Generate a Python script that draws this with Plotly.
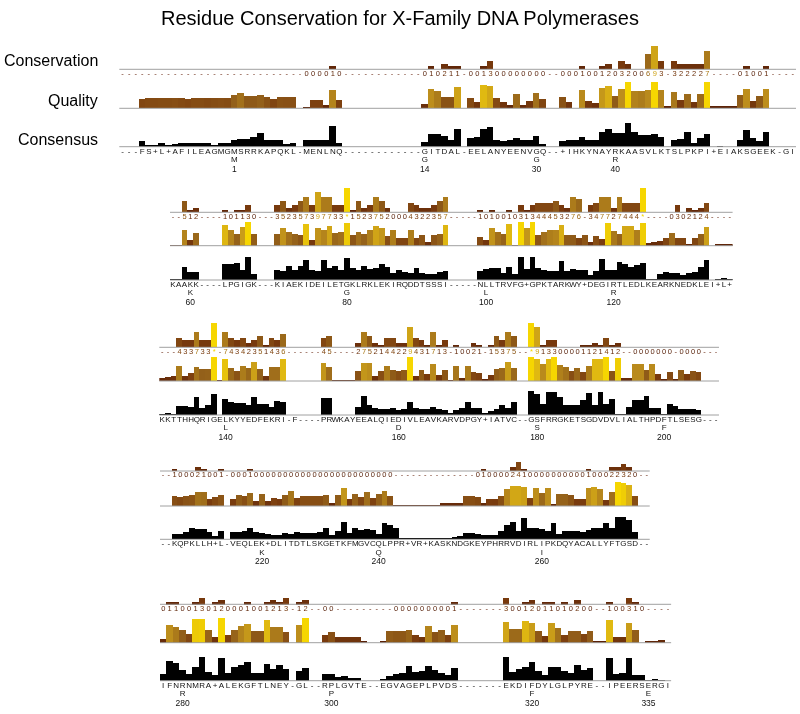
import plotly.graph_objects as go
from plotly.colors import sample_colorscale

TITLE = "Residue Conservation for X-Family DNA Polymerases"
ROW_LABELS = ["Conservation", "Quality", "Consensus"]

# ---------------- Block 1 ----------------
B1_SEQ = ("---" "FS+L+AFILEAGMGMSRRKAPQKL" "-" "MENLNQ" "------------" "GITDAL" "-"
          "EELANYEENVGQ" "--" "+" "IHKYNAYRKAASVLKTSLPKPI" "+EI" "AKSGEEK" "-" "GI")
B1_CONS = ("----------" "----------" "--------" "000010" "----------" "--" "010211" "-"
           "001300000000" "--" "0001001203200693" "-" "322227" "----" "01001" "----")
B1_QUAL = [0, 0, 0,
           3.6, 3.8, 3.8, 3.9, 3.9, 4.0, 3.8, 3.6, 3.9, 3.9, 3.7, 3.9, 4.0, 3.9,
           5.0, 5.8, 4.6, 4.6, 5.0, 4.2, 3.5, 4.2, 4.1, 4.1,
           0,
           0.3, 3.2, 3.2, 1.0, 6.8, 3.2,
           0, 0, 0, 0, 0, 0, 0, 0, 0, 0, 0, 0,
           1.7, 7.3, 6.4, 4.2, 4.2, 8.1,
           0,
           3.8, 2.4, 9.0, 8.3, 3.8, 2.2, 1.0, 5.5, 1.3, 2.6, 5.8, 3.5,
           0, 0,
           4.2, 2.3, 0, 7.1, 2.6, 1.9, 7.7, 8.6, 4.7, 7.3, 10, 6.7, 6.4, 7.1, 10, 6.8, 0.4,
           6.2, 2.9, 5.5, 2.2, 5.5, 10,
           0.5, 0.5, 0.5, 0.5,
           4.9, 7.3, 2.6, 4.7, 7.3,
           0, 0, 0, 0]
B1_CONSENSUS = [0, 0, 0,
                2.6, 0.7, 0.7, 1.7, 0.7, 1.3, 1.7, 1.7, 1.7, 1.7, 1.7, 0.9, 1.7, 1.7, 2.9, 3.3,
                3.3, 4.0, 5.7, 2.9, 2.7, 2.7, 1.2, 1.6,
                0,
                2.9, 3.0, 3.0, 2.7, 8.4, 1.6,
                0, 0, 0, 0, 0, 0, 0, 0, 0, 0, 0, 0,
                1.9, 5.4, 5.4, 4.5, 2.8, 7.4,
                0,
                3.6, 4.2, 7.1, 8.1, 2.8, 2.6, 2.9, 3.5, 2.8, 2.8, 4.5, 1.3,
                0, 0,
                2.6, 2.8, 2.9, 4.2, 2.9, 2.9, 6.0, 7.4, 5.8, 5.8, 9.6, 6.2, 4.9, 4.9, 5.1, 4.2, 0,
                2.9, 3.2, 6.2, 1.7, 3.5, 5.1,
                0, 0.4, 0, 0,
                2.8, 6.9, 3.8, 2.4, 6.2,
                0, 0, 0, 0]
B1_REF_POS = [17, 46, 63, 75]
B1_REF_RES = ["M", "G", "G", "R"]
B1_REF_NUM = ["1", "14", "30", "40"]

# ---------------- Block 2 ----------------
B2_SEQ = ("KAAKK" "----" "LPGIGK" "---" "KIAEKIDEILETGKLRKLEKIRQDDTSSSI" "-----" "NLLTRVFG" "+"
          "GPKTARKWY" "+" "DEGIRTLEDLKEARKNEDKLEI" "+L+")
B2_CONS = ("--512" "----" "101130" "---" "352357397733" "*" "15237520004322357" "-----"
           "101001031344453276" "-" "347727444*" "----" "0302124" "----")
B2_QUAL = [0.3, 0.3, 6.8, 2.6, 5.4,
           0, 0, 0, 0,
           8.9, 6.8, 5.1, 7.9, 10, 4.9,
           0, 0, 0,
           4.9, 7.5, 5.8, 5.1, 4.4, 9.3, 2.6, 7.5, 6.8, 8.2, 5.4, 5.8, 9.6, 4.4, 5.8, 5.1,
           6.5, 8.2, 7.6, 4.0, 6.5, 3.5, 3.5, 6.5, 3.5, 4.4, 1.7, 4.4, 5.1, 8.9,
           0, 0, 0, 0, 0,
           3.8, 2.4, 7.5, 5.8, 5.1, 9.0, 0.2, 10, 7.6, 10, 4.4, 5.8, 6.5, 6.8, 8.6, 4.7,
           4.7, 3.5, 4.4, 1.7, 4.0, 3.0, 9.7, 6.2, 5.1, 8.3, 8.3, 6.5, 9.7, 1.2, 1.5, 1.9,
           3.5, 5.6, 3.5, 3.5, 1.0, 3.5, 5.0, 8.0,
           0, 0.8, 0.8, 0.8]
B2_CONSENSUS = [0.2, 0.3, 5.6, 3.5, 3.5,
                0, 0, 0, 0,
                6.5, 6.5, 6.9, 4.2, 9.7, 2.4,
                0, 0, 0,
                4.2, 3.9, 5.8, 4.2, 5.8, 8.3, 4.2, 3.9, 8.3, 4.9, 5.8, 4.2, 9.0, 4.9, 4.2, 5.8,
                4.4, 4.9, 6.7, 5.3, 2.8, 4.2, 3.2, 2.8, 4.9, 3.1, 2.4, 2.4, 3.2, 3.9,
                0, 0, 0, 0, 0,
                3.9, 4.4, 4.9, 5.1, 2.8, 5.3, 2.4, 9.4, 4.4, 9.7, 4.9, 4.2, 3.9, 3.9, 7.9, 3.9,
                4.4, 4.2, 4.2, 2.1, 3.9, 8.8, 4.2, 4.2, 7.6, 6.5, 5.3, 6.3, 6.9, 0.4, 0.4, 2.4,
                3.5, 2.8, 2.8, 2.1, 2.8, 3.5, 5.5, 8.5,
                0, 0.3, 1.0, 0.3]
B2_REF_POS = [3, 30, 54, 76]
B2_REF_RES = ["K", "G", "L", "R"]
B2_REF_NUM = ["60", "80", "100", "120"]

# ---------------- Block 3 ----------------
B3_SEQ = ("KKTTHHQRIGELKYYEDFEKRI" "-F----" "PRWKAY" "EEALQIEDIVLEAVKARVDPGY" "+" "IATVC" "--"
          "GSFRRGKETSGDVDVLIALTHPDFTLSESG" "---")
B3_CONS = ("---" "433733" "*-" "74342351436" "------" "45" "----" "2752144229431713" "-" "10021"
           "-" "15375" "--" "*913300001121412" "--" "0000000" "-" "0000" "---")
B3_QUAL = [1.4, 1.6, 1.9, 6.4, 2.1, 3.3, 5.9, 5.0, 5.1, 10, 0.1, 9.3, 5.4, 4.3, 6.4, 5.4,
           8.0, 5.0, 2.1, 5.7, 5.7, 9.0,
           0, 0, 0, 0, 0, 0,
           7.6, 5.7,
           0.3, 0.3, 0.3, 0.3,
           4.3, 7.6, 7.3, 1.9, 4.0, 6.4, 4.7, 4.0, 4.7, 10, 2.1, 4.7, 2.9, 7.1, 2.3, 4.4,
           0.4, 6.1, 1.1, 6.4, 3.6, 3.3, 0.7, 2.6, 5.0, 5.4, 7.9, 5.4,
           0, 0,
           10, 9.0, 7.1, 9.0, 10, 6.6, 5.9, 4.0, 5.4, 3.6, 6.4, 9.0, 9.0, 10, 4.3, 9.7,
           1.4, 1.4, 7.1, 7.1, 4.7, 7.1, 2.9, 0.7, 3.7, 0.9, 4.7, 2.9, 4.3, 3.7,
           0, 0, 0]
B3_CONSENSUS = [0.3, 1.0, 0.4, 3.9, 3.8, 3.5, 7.6, 2.8, 4.2, 8.8, 0, 6.5, 5.3, 5.1, 4.9,
                4.2, 7.6, 4.4, 4.4, 3.5, 5.8, 5.3,
                0, 0, 0, 0, 0, 0,
                6.9, 6.9,
                0, 0, 0, 0,
                3.5, 8.1, 4.2, 3.1, 2.4, 2.5, 2.8, 2.1, 2.4, 5.6, 3.1, 2.4, 2.4, 3.5, 2.4,
                2.1, 0.5, 2.1, 2.8, 5.3, 2.8, 2.8, 0.5, 1.5, 2.4, 4.2, 2.8, 5.6,
                0, 0,
                10, 8.8, 4.4, 9.4, 9.7, 7.6, 4.2, 4.2, 4.2, 6.3, 9.3, 4.2, 9.4, 4.4, 6.5,
                0.4, 0.3, 3.5, 6.3, 6.3, 7.9, 2.8, 2.8, 0.3, 4.4, 3.9, 2.4, 2.4, 2.4, 2.0,
                0, 0, 0]
B3_REF_POS = [11, 41, 65, 87]
B3_REF_RES = ["L", "D", "S", "F"]
B3_REF_NUM = ["140", "160", "180", "200"]

# ---------------- Block 4 ----------------
B4_SEQ = ("--" "KQPKLLH+L" "-" "VEQLEK+DLITDTLSKGETKFMGVCQLPPR" "+" "VR" "+"
          "KASKNDGKEYPHRRVDIRLIPKDQYACALLYFTGSD" "--")
B4_CONS = ("--" "100021001" "-" "0001" "000000000000" "000000000000" "----------" "----"
           "01" "0000" "241" "0000000000" "1" "000" "22320" "--")
B4_QUAL = [0, 0,
           4.0, 3.7, 4.3, 4.4, 5.9, 5.7, 3.0, 3.7, 4.4,
           0,
           2.9, 4.7, 4.0, 5.4, 2.1, 5.1, 2.1, 3.3, 2.9, 4.7, 6.1, 3.3, 4.0, 4.0, 4.0, 4.0,
           4.7, 1.1, 4.7, 7.6, 2.9, 5.1, 3.6, 5.7, 3.3, 5.0, 6.4, 4.3,
           0.3, 0.3, 0.3, 0.3, 0.3, 0.3, 0.3, 0.3,
           1.4, 1.4, 1.4, 1.4,
           4.0, 4.0, 3.7, 1.1, 3.0, 2.9, 4.0, 6.9, 8.3, 8.3, 8.0, 3.3, 7.3, 5.4, 7.3, 0.9,
           5.1, 5.1, 4.4, 2.9, 2.9, 7.3, 8.0, 6.9, 2.6, 5.7, 10, 9.7, 8.7, 4.0,
           0, 0]
B4_CONSENSUS = [0, 0,
                2.3, 2.1, 3.0, 4.7, 4.4, 4.4, 2.9, 1.1, 3.3,
                0,
                3.0, 3.0, 3.6, 5.0, 3.0, 2.6, 2.1, 1.6, 1.6, 2.6, 2.3, 2.9, 2.6, 2.6, 2.6, 3.0,
                5.0, 1.9, 3.6, 7.6, 2.6, 5.0, 4.0, 4.4, 4.0, 2.3, 6.9, 6.1,
                5.0, 0.4, 0.1, 0.4, 0.2, 0.2, 0.2, 0.2, 0.4, 0.4, 0.7, 1.1,
                2.6, 2.6, 2.1, 1.9, 1.9, 1.9, 3.6, 5.9, 7.6, 3.6, 9.3, 4.7, 4.7, 4.4, 3.3, 7.1,
                2.3, 3.3, 3.6, 3.6, 3.0, 4.0, 4.7, 5.0, 7.1, 5.0, 9.4, 9.4, 8.3, 3.0,
                0, 0]
B4_REF_POS = [17, 37, 65]
B4_REF_RES = ["K", "Q", "I"]
B4_REF_NUM = ["220", "240", "260"]

# ---------------- Block 5 ----------------
B5_SEQ = ("IFNRNMRA+ALEKGFTLNEY" "-" "GL" "--" "RPLGVTE" "--" "EGVAGEPLPVDS" "-------"
          "EKDIFDYLGLPYRE" "--" "IPEERSERGI")
B5_CONS = ("01100130120001001213" "-" "12" "--" "00" "---------" "000000000" "1" "-------"
           "30012011010200" "--" "100310" "----")
B5_QUAL = [1.4, 7.3, 6.3, 4.9, 3.6, 9.6, 9.7, 5.2, 2.1, 10, 3.2, 5.2, 6.8, 7.7, 4.5, 4.5,
           9.0, 6.3, 6.3, 4.1,
           0,
           7.3, 10,
           0, 0,
           2.9, 4.1, 2.2, 2.2, 2.2, 2.2, 0.3,
           0, 0,
           0.4, 4.8, 4.5, 4.5, 5.2, 2.9, 2.2, 6.8, 4.2, 4.9, 3.2, 7.3,
           0, 0, 0, 0, 0, 0, 0,
           8.2, 5.5, 5.5, 8.9, 7.9, 4.5, 2.5, 7.9, 5.9, 3.2, 4.8, 4.8, 3.4, 4.8,
           0.3, 0.3,
           9.0, 2.3, 2.1, 7.9, 4.9, 0, 0.8, 0.8, 1.1, 0]
B5_CONSENSUS = [2.7, 8.1, 7.4, 4.3, 3.0, 5.7, 9.7, 3.6, 2.3, 9.3, 3.2, 5.7, 6.4, 7.7, 3.2,
                3.2, 6.8, 5.0, 6.4, 5.0,
                0,
                4.1, 5.4,
                0, 0,
                3.0, 2.7, 1.6, 1.9, 1.4, 1.4, 0,
                0, 0,
                0.5, 1.9, 3.0, 3.2, 5.9, 3.6, 4.0, 6.0, 4.4, 3.3, 2.4, 5.3,
                0, 0, 0, 0, 0, 0, 0,
                9.7, 3.6, 4.7, 5.6, 7.6, 4.0, 2.4, 5.6, 5.6, 4.0, 3.3, 6.4, 4.4, 5.3,
                0, 0,
                9.1, 2.9, 3.1, 9.1, 2.4, 2.4, 0.3, 0.5, 0.4, 0]
B5_REF_POS = [3, 26, 57, 75]
B5_REF_RES = ["R", "P", "F", "E"]
B5_REF_NUM = ["280", "300", "320", "335"]

# ---------------- presentation (positions / styles) ----------------
W, H = 800, 714
FONT = "Liberation Sans"
# left edge px, column width px, baselines (cons, quality, consensus) px, bar heights px
GEOM = [
    (119.3, 6.57, 69.3, 108.3, 146.7, 28.0, 26.0, 25.0),
    (170.0, 5.80, 212.3, 245.7, 280.0, 24.0, 24.0, 24.0),
    (159.3, 5.77, 347.3, 381.0, 415.0, 24.0, 24.0, 24.0),
    (160.0, 5.83, 471.0, 506.0, 539.3, 24.0, 24.0, 23.0),
    (160.0, 6.47, 604.3, 642.7, 680.7, 25.7, 24.5, 25.0),
]
BAR_SCALE = [[0.0, "#561e06"], [0.3, "#7a3c0e"], [0.5, "#93601a"],
             [0.72, "#bb8c1c"], [0.88, "#dcb314"], [1.0, "#f6d600"]]
DASH_COLOR = "#6a2812"
TEXT_COLOR = "#111111"
LINE_COLOR = "#a0a0a0"
CONS_LEVEL = {"*": 11, "+": 10}

BLOCK_DATA = [
    (B1_SEQ, B1_CONS, B1_QUAL, B1_CONSENSUS, B1_REF_POS, B1_REF_RES, B1_REF_NUM),
    (B2_SEQ, B2_CONS, B2_QUAL, B2_CONSENSUS, B2_REF_POS, B2_REF_RES, B2_REF_NUM),
    (B3_SEQ, B3_CONS, B3_QUAL, B3_CONSENSUS, B3_REF_POS, B3_REF_RES, B3_REF_NUM),
    (B4_SEQ, B4_CONS, B4_QUAL, B4_CONSENSUS, B4_REF_POS, B4_REF_RES, B4_REF_NUM),
    (B5_SEQ, B5_CONS, B5_QUAL, B5_CONSENSUS, B5_REF_POS, B5_REF_RES, B5_REF_NUM),
]

for i, (s, c, q, k_, *_r) in enumerate(BLOCK_DATA):
    assert len(s) == len(c) == len(q) == len(k_), (i + 1, len(s), len(c), len(q), len(k_))


def cons_value(ch):
    if ch in CONS_LEVEL:
        return CONS_LEVEL[ch]
    if ch.isdigit():
        return int(ch)
    return 0


def text_trace(xs, ys, texts, colors, size, sfx):
    return go.Scatter(x=xs, y=ys, mode="text", text=texts,
                      textposition="middle center",
                      textfont=dict(size=size, color=colors, family=FONT),
                      cliponaxis=False, xaxis="x" + sfx, yaxis="y" + sfx,
                      hoverinfo="skip", showlegend=False)


fig = go.Figure()
axes = {}
shapes = []
ax_n = 0
for b, (seq, cons, qual, cnsv, rpos, rres, rnum) in enumerate(BLOCK_DATA):
    left, cw, cb, qb, kb, ch, qh, kh = GEOM[b]
    n = len(seq)
    idx = list(range(n))
    cvals = [cons_value(c) for c in cons]
    rows = [
        ("cons", cb, ch, 11.0, 9.0, cvals),
        ("qual", qb, qh, 10.0, 2.0, qual),
        ("consensus", kb, kh, 10.0, 27.0, cnsv),
    ]
    for kind, base, hpx, vmax, pad, vals in rows:
        ax_n += 1
        sfx = "" if ax_n == 1 else str(ax_n)
        u = vmax / hpx
        axes["xaxis" + sfx] = dict(domain=[left / W, min(1.0, (left + n * cw) / W)],
                                   range=[-0.5, n - 0.5], visible=False,
                                   fixedrange=True, anchor="y" + sfx)
        axes["yaxis" + sfx] = dict(domain=[1 - (base + pad) / H, 1 - (base - hpx - 1) / H],
                                   range=[-pad * u, (hpx + 1) * u], visible=False,
                                   fixedrange=True, anchor="x" + sfx)
        if kind == "consensus":
            marker = dict(color="#000000", line=dict(width=0))
        else:
            marker = dict(color=vals, colorscale=BAR_SCALE, cmin=0, cmax=vmax,
                          line=dict(width=0))
        fig.add_trace(go.Bar(x=idx, y=vals, width=1.0, marker=marker,
                             xaxis="x" + sfx, yaxis="y" + sfx,
                             hoverinfo="skip", showlegend=False))
        shapes.append(dict(type="line", xref="x" + sfx + " domain", yref="y" + sfx,
                           x0=0, x1=1, y0=0, y1=0,
                           line=dict(color=LINE_COLOR, width=1), layer="above"))
        if kind == "cons":
            cols = [DASH_COLOR if c == "-" else sample_colorscale(BAR_SCALE, [v / 11.0])[0]
                    for c, v in zip(cons, cvals)]
            fig.add_trace(text_trace(idx, [-4.6 * u] * n, list(cons), cols, 7.5, sfx))
        if kind == "consensus":
            fig.add_trace(text_trace(idx, [-5.0 * u] * n, list(seq),
                                     [TEXT_COLOR] * n, 8, sfx))
            fig.add_trace(text_trace(rpos, [-13.3 * u] * len(rpos), rres,
                                     [TEXT_COLOR] * len(rpos), 8, sfx))
            fig.add_trace(text_trace(rpos, [-23.0 * u] * len(rpos), rnum,
                                     [TEXT_COLOR] * len(rpos), 8.5, sfx))

annotations = [
    dict(text=TITLE, x=0.5, y=1 - 18 / H, xref="paper", yref="paper", showarrow=False,
         xanchor="center", yanchor="middle", font=dict(size=20, family=FONT, color="#000000")),
]
for lbl, ypx in zip(ROW_LABELS, [60.5, 100.7, 140]):
    annotations.append(dict(text=lbl, x=99.5 / W, y=1 - ypx / H, xref="paper", yref="paper",
                            showarrow=False, xanchor="right", yanchor="middle",
                            font=dict(size=16, family=FONT, color="#000000")))

fig.update_layout(width=W, height=H, margin=dict(l=0, r=0, t=0, b=0),
                  paper_bgcolor="white", plot_bgcolor="rgba(0,0,0,0)",
                  showlegend=False, hovermode=False, bargap=0,
                  shapes=shapes, annotations=annotations, **axes)

# grayscale text antialiasing (avoids coloured sub-pixel fringes on the tiny letters)
POST_JS = ("document.body.style.margin='0';"
           "document.querySelectorAll('.main-svg').forEach(function(s){"
           "s.style.opacity='0.999';s.style.willChange='transform';});")

fig.write_html("out.html", config={"displayModeBar": False}, post_script=POST_JS)
